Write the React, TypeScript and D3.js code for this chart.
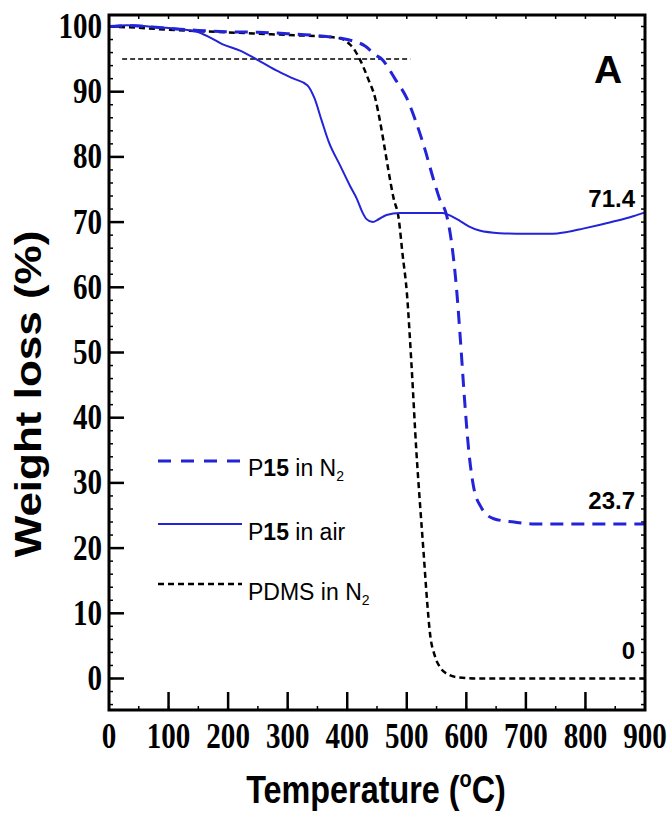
import React from "react";
import * as d3 from "d3";

const xTicks = [0, 100, 200, 300, 400, 500, 600, 700, 800, 900];
const yTicks = [0, 10, 20, 30, 40, 50, 60, 70, 80, 90, 100];

const p15N2Temp = [0, 40, 100, 150, 200, 250, 300, 350, 400, 430, 448, 458, 480, 500, 515, 530, 545, 555, 567, 575, 584, 590, 597, 604, 612, 624, 646, 680, 715, 900];
const p15N2Val = [100, 100.1, 99.7, 99.4, 99.2, 99.1, 98.9, 98.6, 98.0, 97.0, 95.6, 95.0, 92.0, 89.0, 85.5, 81.3, 76.5, 73.6, 71.0, 67.0, 59.3, 52.0, 42.8, 35.0, 29.5, 26.4, 24.5, 24.0, 23.7, 23.7];

const p15AirTemp = [0, 30, 80, 147, 170, 190, 220, 247, 280, 310, 333, 345, 357, 369, 388, 405, 416, 425, 432, 443, 452, 466, 488, 530, 560, 570, 589, 605, 622, 656, 700, 740, 770, 796, 825, 852, 880, 900];
const p15AirVal = [100, 100.2, 99.9, 99.2, 98.3, 97.3, 96.3, 95.0, 93.3, 92.0, 91.0, 89.0, 85.6, 82.3, 78.7, 75.5, 73.6, 71.6, 70.5, 70.0, 70.4, 71.1, 71.4, 71.4, 71.4, 71.1, 70.2, 69.3, 68.7, 68.3, 68.2, 68.2, 68.5, 69.0, 69.6, 70.2, 70.9, 71.5];

const pdmsTemp = [0, 50, 100, 200, 300, 370, 391, 405, 413, 421, 435, 447, 455, 463, 470, 478, 486, 493, 500, 508, 516, 522, 528, 534, 539, 547, 556, 570, 584, 620, 900];
const pdmsVal = [100, 99.8, 99.5, 99.1, 98.7, 98.4, 98.1, 97.2, 96.3, 95.0, 92.0, 89.0, 85.5, 81.3, 77.5, 73.6, 70.8, 65.0, 59.3, 48.0, 35.0, 27.0, 19.6, 12.0, 6.9, 3.5, 1.7, 0.6, 0.2, 0, 0];

const refLevel = 95;
const refStart = 22;
const refEnd = 506;

const endLabels = ["71.4", "23.7", "0"];
const endLabelValues = [71.4, 23.7, 0];

const BLUE = "#2323d8";

export default function App() {
  const x = d3.scaleLinear().domain([0, 900]).range([109, 645]);
  const y = d3.scaleLinear().domain([0, 100]).range([678.5, 26.5]);
  const top = 15;
  const bottom = 710;
  const left = x(0);
  const right = x(900);

  const line = d3
    .line<[number, number]>()
    .x((d) => x(d[0]))
    .y((d) => y(d[1]))
    .curve(d3.curveMonotoneX);

  const zip = (a: number[], b: number[]) => a.map((t, i) => [t, b[i]] as [number, number]);

  const minorY = d3.range(-4, 101, 2);
  const minorXTop = d3.range(50, 900, 50);

  const serif = "'Liberation Serif', 'Times New Roman', serif";
  const sans = "'Liberation Sans', Arial, sans-serif";

  const labelOffsets = [-6, -15, -20];

  return (
    <svg width={670} height={816} style={{ position: "absolute", left: 0, top: 0, background: "#fff" }}>
      <rect x={0} y={0} width={670} height={816} fill="#fff" />

      {/* minor ticks */}
      {minorY.map((v) => (
        <g key={"my" + v}>
          <line x1={left} x2={left + 4} y1={y(v)} y2={y(v)} stroke="#000" strokeWidth={1.5} />
          <line x1={right} x2={right - 4} y1={y(v)} y2={y(v)} stroke="#000" strokeWidth={1.5} />
        </g>
      ))}
      {minorXTop.map((t) => (
        <g key={"mx" + t}>
          <line x1={x(t)} x2={x(t)} y1={top} y2={top + 4} stroke="#000" strokeWidth={1.5} />
          <line x1={x(t)} x2={x(t)} y1={bottom} y2={bottom - 4} stroke="#000" strokeWidth={1.5} />
        </g>
      ))}

      {/* major ticks */}
      {yTicks.map((v) => (
        <line key={"yt" + v} x1={left} x2={left + 15} y1={y(v)} y2={y(v)} stroke="#000" strokeWidth={2.5} />
      ))}
      {xTicks.slice(1, -1).map((t) => (
        <line key={"xt" + t} x1={x(t)} x2={x(t)} y1={bottom} y2={bottom - 18} stroke="#000" strokeWidth={2.5} />
      ))}

      {/* reference line */}
      <line x1={x(refStart)} x2={x(refEnd)} y1={y(refLevel)} y2={y(refLevel)} stroke="#000" strokeWidth={1.5} strokeDasharray="5 3" />

      {/* curves */}
      <path d={line(zip(pdmsTemp, pdmsVal)) || ""} fill="none" stroke="#000" strokeWidth={2.5} strokeDasharray="6 4" />
      <path d={line(zip(p15AirTemp, p15AirVal)) || ""} fill="none" stroke={BLUE} strokeWidth={2} />
      <path d={line(zip(p15N2Temp, p15N2Val)) || ""} fill="none" stroke={BLUE} strokeWidth={3} strokeDasharray="13 8" />

      {/* frame */}
      <rect x={left} y={top} width={right - left} height={bottom - top} fill="none" stroke="#000" strokeWidth={3} />

      {/* y tick labels */}
      {yTicks.map((v) => (
        <g key={"yl" + v} transform={`translate(102, ${y(v) + 11.5}) scale(0.83,1)`}>
          <text x={0} y={0} textAnchor="end" fontFamily={serif} fontWeight="bold" fontSize={35} fill="#000">
            {v}
          </text>
        </g>
      ))}

      {/* x tick labels */}
      {xTicks.map((t) => (
        <g key={"xl" + t} transform={`translate(${x(t)}, 748) scale(0.83,1)`}>
          <text x={0} y={0} textAnchor="middle" fontFamily={serif} fontWeight="bold" fontSize={35} fill="#000">
            {t}
          </text>
        </g>
      ))}

      {/* axis titles */}
      <g transform="translate(376, 803) scale(0.83,1)">
        <text x={0} y={0} textAnchor="middle" fontFamily={sans} fontWeight="bold" fontSize={39} fill="#000">
          Temperature (<tspan fontSize={24} dy={-16}>o</tspan>
          <tspan dy={16}>C)</tspan>
        </text>
      </g>
      <g transform="translate(41, 394) scale(0.86,1) rotate(-90)">
        <text x={0} y={0} textAnchor="middle" fontFamily={sans} fontWeight="bold" fontSize={44} fill="#000">
          Weight loss (%)
        </text>
      </g>

      {/* panel letter */}
      <text x={608} y={83} textAnchor="middle" fontFamily={sans} fontWeight="bold" fontSize={39} fill="#000">
        A
      </text>

      {/* end labels */}
      {endLabels.map((s, i) => (
        <text key={s} x={635} y={y(endLabelValues[i]) + labelOffsets[i]} textAnchor="end" fontFamily={sans} fontWeight="bold" fontSize={24} fill="#000">
          {s}
        </text>
      ))}

      {/* legend */}
      <line x1={158} x2={242} y1={461} y2={461} stroke={BLUE} strokeWidth={3} strokeDasharray="13 10" />
      <text x={248} y={476} fontFamily={sans} fontSize={23} fill="#000">
        P<tspan fontWeight="bold">15</tspan> in N<tspan fontSize={14} dy={5}>2</tspan>
      </text>
      <line x1={158} x2={242} y1={524} y2={524} stroke={BLUE} strokeWidth={2} />
      <text x={248} y={540} fontFamily={sans} fontSize={23} fill="#000">
        P<tspan fontWeight="bold">15</tspan> in air
      </text>
      <line x1={158} x2={242} y1={584} y2={584} stroke="#000" strokeWidth={2.5} strokeDasharray="6 4" />
      <text x={248} y={600} fontFamily={sans} fontSize={23} fill="#000">
        PDMS in N<tspan fontSize={14} dy={5}>2</tspan>
      </text>
    </svg>
  );
}
